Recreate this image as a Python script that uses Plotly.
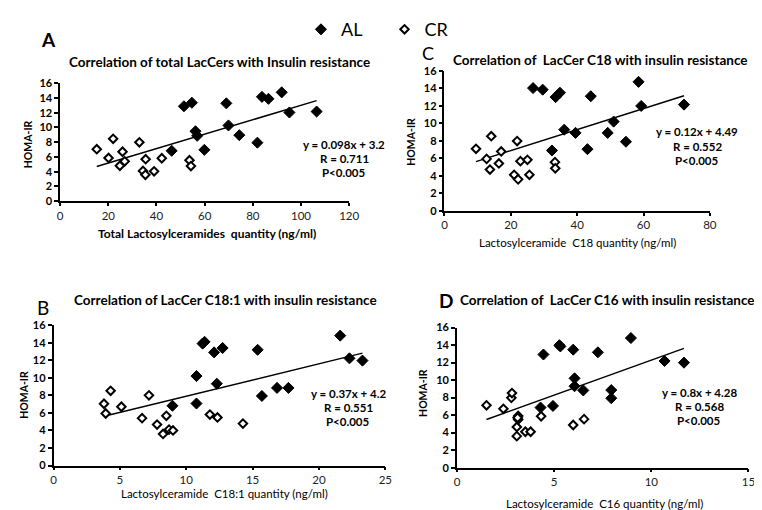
import plotly.graph_objects as go

# ---------------- data ----------------
# Panel A: total LacCers
a_cr_x = [15.2, 20.1, 22.0, 24.8, 25.9, 26.8, 32.9, 34.4, 35.4, 35.5, 39.0, 42.2, 53.7, 54.3]
a_cr_y = [7.05, 5.86, 8.46, 4.8, 6.7, 5.4, 7.98, 4.1, 3.57, 5.69, 4.05, 5.82, 5.55, 4.76]
a_al_x = [46.3, 51.4, 54.7, 56.2, 56.9, 59.9, 69.0, 69.9, 74.4, 81.9, 83.8, 86.5, 92.0, 95.2, 106.5]
a_al_y = [6.83, 12.87, 13.35, 9.48, 8.86, 6.96, 13.27, 10.27, 8.95, 7.93, 14.15, 13.88, 14.76, 12.03, 12.16]
a_fit = (0.098, 3.2)

# Panel C: LacCer C18
c_cr_x = [9.5, 12.7, 13.7, 14.1, 16.4, 17.1, 21.0, 21.9, 22.2, 22.9, 25.0, 25.6, 33.3, 33.4]
c_cr_y = [7.09, 5.94, 4.72, 8.53, 5.42, 6.79, 4.12, 7.98, 3.6, 5.68, 5.83, 4.12, 5.57, 4.86]
c_al_x = [26.7, 29.6, 32.4, 33.5, 34.8, 36.1, 39.5, 43.1, 44.1, 49.2, 51.0, 54.7, 58.5, 59.3, 72.2]
c_al_y = [14.03, 13.85, 6.9, 13.0, 13.5, 9.28, 8.91, 7.05, 13.1, 8.91, 10.2, 7.9, 14.74, 11.99, 12.14]
c_fit = (0.12, 4.49)

# Panel B: LacCer C18:1
b_cr_x = [3.8, 3.93, 4.3, 5.11, 6.67, 7.19, 7.8, 8.5, 8.25, 8.7, 9.0, 11.78, 12.35, 14.27]
b_cr_y = [7.04, 5.93, 8.52, 6.7, 5.4, 8.0, 4.67, 5.67, 3.6, 4.1, 4.0, 5.81, 5.48, 4.78]
b_al_x = [8.96, 10.77, 10.77, 11.23, 11.38, 12.1, 12.3, 12.74, 15.38, 15.7, 16.84, 17.7, 21.6, 22.3, 23.28]
b_al_y = [6.81, 10.2, 7.07, 13.9, 14.1, 12.9, 9.33, 13.4, 13.19, 7.93, 8.85, 8.85, 14.81, 12.22, 11.96]
b_fit = (0.37, 4.2)

# Panel D: LacCer C16
d_cr_x = [1.52, 2.39, 2.8, 2.83, 3.15, 3.15, 3.12, 3.08, 3.08, 3.52, 3.79, 4.33, 5.98, 6.54]
d_cr_y = [7.12, 6.72, 7.97, 8.52, 5.9, 5.5, 5.7, 4.65, 3.6, 4.1, 4.1, 5.87, 4.87, 5.54]
d_al_x = [4.3, 4.45, 4.94, 5.27, 5.32, 5.98, 6.05, 6.05, 6.5, 7.25, 7.94, 7.94, 8.95, 10.68, 11.68]
d_al_y = [6.86, 12.92, 7.05, 13.98, 13.84, 13.47, 10.2, 9.3, 8.82, 13.17, 8.86, 7.93, 14.8, 12.18, 11.99]
d_fit = (0.8, 4.28)

y_ticks = [0, 2, 4, 6, 8, 10, 12, 14, 16]

panels = [
    dict(cr_x=a_cr_x, cr_y=a_cr_y, al_x=a_al_x, al_y=a_al_y, fit=a_fit, xmax=120, dtick=20,
         eq=["y = 0.098x + 3.2", "R = 0.711", "P<0.005"]),
    dict(cr_x=c_cr_x, cr_y=c_cr_y, al_x=c_al_x, al_y=c_al_y, fit=c_fit, xmax=80, dtick=20,
         eq=["y = 0.12x + 4.49", "R = 0.552", "P<0.005"]),
    dict(cr_x=b_cr_x, cr_y=b_cr_y, al_x=b_al_x, al_y=b_al_y, fit=b_fit, xmax=25, dtick=5,
         eq=["y = 0.37x + 4.2", "R = 0.551", "P<0.005"]),
    dict(cr_x=d_cr_x, cr_y=d_cr_y, al_x=d_al_x, al_y=d_al_y, fit=d_fit, xmax=15, dtick=5,
         eq=["y = 0.8x + 4.28", "R = 0.568", "P<0.005"]),
]

W, H = 762, 510
FONT = "Lato"

def fx(px):
    return px / W

def fy(py):
    return 1 - py / H

# plot-area boxes in pixels: (left, top, right, bottom)
boxes = [
    (50, 70, 344, 191),
    (441, 57.3, 711, 201),
    (43.3, 318.3, 380.8, 462.3),
    (453.7, 320.7, 750.3, 464.5),
]

fig = go.Figure()
layout = dict(
    width=W, height=H, margin=dict(l=0, r=0, t=0, b=0),
    paper_bgcolor="white", plot_bgcolor="white",
    font=dict(family=FONT, color="black"),
    showlegend=True,
)

for i, (p, box) in enumerate(zip(panels, boxes)):
    n = "" if i == 0 else str(i + 1)
    xa, ya = "x" + n, "y" + n
    l, t, r, b = box
    layout["xaxis" + n] = dict(
        domain=[fx(l), fx(r)], anchor=ya, range=[0, p["xmax"]], dtick=p["dtick"], tick0=0,
        showline=True, linecolor="black", linewidth=1.5, ticks="outside", ticklen=3,
        tickcolor="black", tickwidth=1.5, showgrid=False, zeroline=False,
        tickfont=dict(family=FONT, size=11.5, color="#222"), fixedrange=True,
    )
    layout["yaxis" + n] = dict(
        domain=[fy(b), fy(t)], anchor=xa, range=[0, 16], tickvals=y_ticks,
        showline=True, linecolor="black", linewidth=1.5, ticks="outside", ticklen=4,
        tickcolor="black", tickwidth=1.5, showgrid=False, zeroline=False,
        tickfont=dict(family=FONT, size=11, color="black", weight="bold"), fixedrange=True,
    )
    allx = p["cr_x"] + p["al_x"]
    x0, x1 = min(allx), max(allx)
    m, c = p["fit"]
    fig.add_trace(go.Scatter(x=[x0, x1], y=[m * x0 + c, m * x1 + c], mode="lines",
                             line=dict(color="black", width=1.5), xaxis=xa, yaxis=ya,
                             showlegend=False, hoverinfo="skip"))
    fig.add_trace(go.Scatter(x=p["al_x"], y=p["al_y"], mode="markers", name="AL",
                             marker=dict(symbol="diamond", size=8.5, color="black",
                                         line=dict(color="black", width=1)),
                             xaxis=xa, yaxis=ya, showlegend=(i == 0), legend="legend"))
    fig.add_trace(go.Scatter(x=p["cr_x"], y=p["cr_y"], mode="markers", name="CR",
                             marker=dict(symbol="diamond", size=6.5, color="white",
                                         line=dict(color="black", width=2)),
                             xaxis=xa, yaxis=ya, showlegend=(i == 0), legend="legend2"))

layout["legend"] = dict(x=fx(295), y=fy(15), xanchor="left", yanchor="middle",
                        font=dict(family=FONT, size=18), bgcolor="rgba(0,0,0,0)")
layout["legend2"] = dict(x=fx(380), y=fy(15), xanchor="left", yanchor="middle",
                         font=dict(family=FONT, size=18), bgcolor="rgba(0,0,0,0)")

ann = []

def text(x, y, s, size=11, bold=False, angle=0, align="center"):
    ann.append(dict(x=fx(x), y=fy(y), xref="paper", yref="paper", text=s, showarrow=False,
                    textangle=angle, align=align, xanchor="center", yanchor="middle",
                    font=dict(family=FONT, size=size, color="black",
                              weight="bold" if bold else "normal")))

# panel letters
text(38, 25, "A", 19, True)
text(424, 39, "C", 18, False)
text(33, 300, "B", 19, False)
text(443, 293, "D", 19, True)

# titles
text(212, 48, "Correlation of total LacCers with Insulin resistance", 13.5, True)
text(600, 46, "Correlation of  LacCer C18 with insulin resistance", 13.5, True)
text(218, 292, "Correlation of LacCer C18:1 with insulin resistance", 13.5, True)
text(607, 292, "Correlation of  LacCer C16 with insulin resistance", 13.5, True)

# y titles
text(17, 133, "HOMA-IR", 10.5, True, -90)
text(407, 130, "HOMA-IR", 10.5, True, -90)
text(13, 390, "HOMA-IR", 10.5, True, -90)
text(419, 388, "HOMA-IR", 10.5, True, -90)

# x titles
text(199, 224, "Total Lactosylceramides  quantity (ng/ml)", 12, True)
text(576, 233, "Lactosylceramide  C18 quantity (ng/ml)", 11.5, False)
text(217, 491, "Lactosylceramide  C18:1 quantity (ng/ml)", 11.5, False)
text(604, 501, "Lactosylceramide  C16 quantity (ng/ml)", 11.5, False)

# regression equations
eq_pos = [(339, 133), (698, 120), (343, 388), (700, 387)]
for p, (ex, ey) in zip(panels, eq_pos):
    for k, line in enumerate(p["eq"]):
        text(ex, ey + k * 14.5, line, 11.5, True)

layout["annotations"] = ann
fig.update_layout(**layout)
fig.write_html("out.html")
